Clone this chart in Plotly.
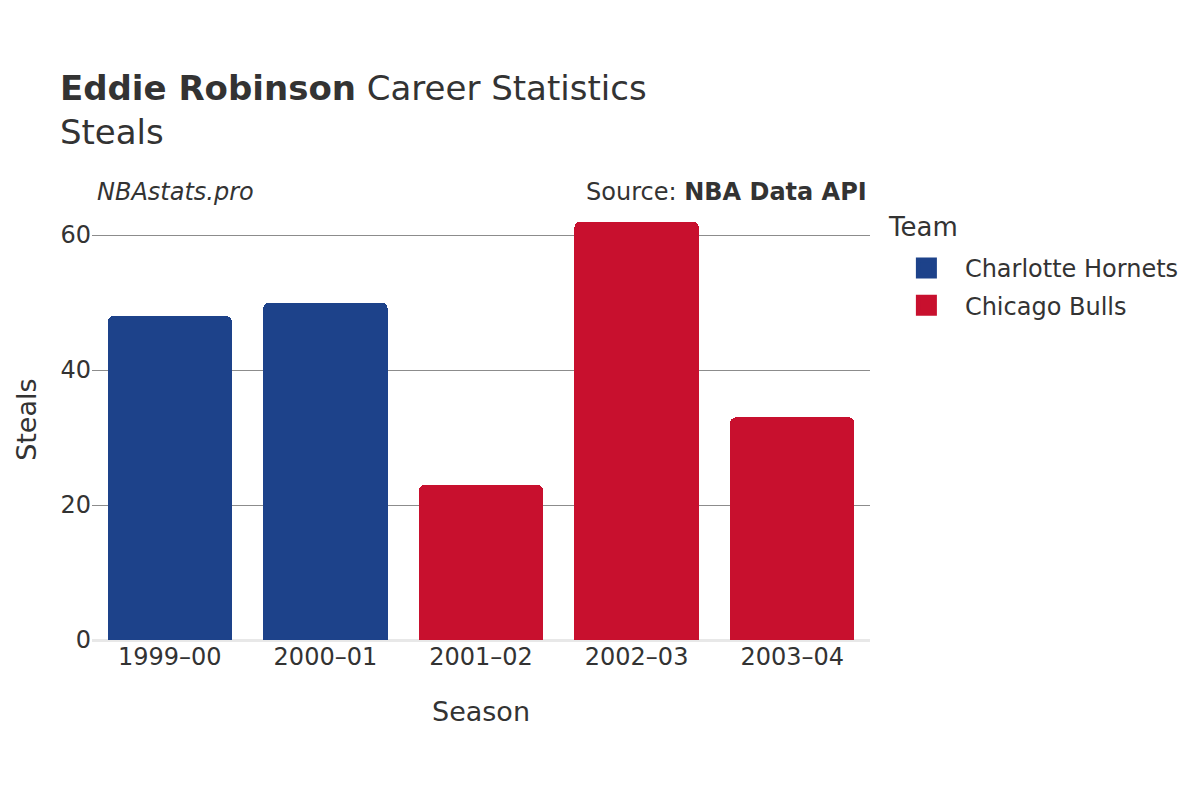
import plotly.graph_objects as go

seasons = ["1999–00", "2000–01", "2001–02", "2002–03", "2003–04"]
teams = ["Charlotte Hornets", "Charlotte Hornets", "Chicago Bulls", "Chicago Bulls", "Chicago Bulls"]
steals = [48, 50, 23, 62, 33]
team_colors = {"Charlotte Hornets": "#1D428A", "Chicago Bulls": "#C8102E"}

FONT = "DejaVu Sans"
TEXT = "#333333"

fig = go.Figure()
for team, color in team_colors.items():
    xs = [s for s, t in zip(seasons, teams) if t == team]
    ys = [v for v, t in zip(steals, teams) if t == team]
    fig.add_trace(go.Bar(
        x=xs,
        y=ys,
        name=team,
        legendgroup=team,
        showlegend=False,
        marker=dict(color=color, cornerradius=6, line=dict(width=0)),
    ))
    # legend-only entry so the swatch can be drawn bigger than the bar default
    fig.add_trace(go.Scatter(
        x=[xs[0]],
        y=[None],
        mode="markers",
        name=team,
        legendgroup=team,
        marker=dict(symbol="square", size=16, color=color,
                    line=dict(color=color, width=5)),
        hoverinfo="skip",
    ))

fig.update_layout(
    width=1200,
    height=800,
    barmode="stack",
    bargap=0.2,
    plot_bgcolor="white",
    paper_bgcolor="white",
    font=dict(family=FONT, color=TEXT, size=24),
    title=dict(
        text="<b>Eddie Robinson</b> Career Statistics<br>Steals",
        x=0.0433, xanchor="left",
        y=0.885, yanchor="bottom",
        font=dict(size=34, family=FONT, color=TEXT),
    ),
    margin=dict(l=84, r=338, t=192, b=168),
    legend=dict(
        font=dict(size=24),
        x=1.023, xanchor="left",
        y=0.8955, yanchor="top",
        itemwidth=67,
        itemsizing="trace",
        traceorder="grouped",
        tracegroupgap=3,
    ),
    annotations=[
        dict(text="<i>NBAstats.pro</i>", xref="paper", yref="paper",
             x=0.004, y=1.018, xanchor="left", yanchor="middle",
             showarrow=False, font=dict(size=24)),
        dict(text="Source: <b>NBA Data API</b>", xref="paper", yref="paper",
             x=0.999, y=1.018, xanchor="right", yanchor="middle",
             showarrow=False, font=dict(size=24)),
        dict(text="Team", xref="paper", yref="paper",
             x=1.0206, y=0.9386, xanchor="left", yanchor="middle",
             showarrow=False, font=dict(size=26)),
        # y-axis title, placed by hand so it can sit further out than the margin allows
        dict(text="Steals", xref="paper", yref="paper",
             x=-0.085, y=0.5, xanchor="center", yanchor="middle",
             textangle=-90, showarrow=False, font=dict(size=27)),
    ],
)

fig.update_xaxes(
    title=dict(text="Season", font=dict(size=27), standoff=32),
    tickfont=dict(size=24),
    showgrid=False,
    automargin=False,
)
fig.update_yaxes(
    tickfont=dict(size=24),
    range=[0, 65.2],
    tickvals=[0, 20, 40, 60],
    showgrid=True, gridcolor="#8c8c8c", gridwidth=1,
    zeroline=True, zerolinecolor="#e8e8e8", zerolinewidth=3,
    automargin=False,
)

fig.write_html("out.html")
